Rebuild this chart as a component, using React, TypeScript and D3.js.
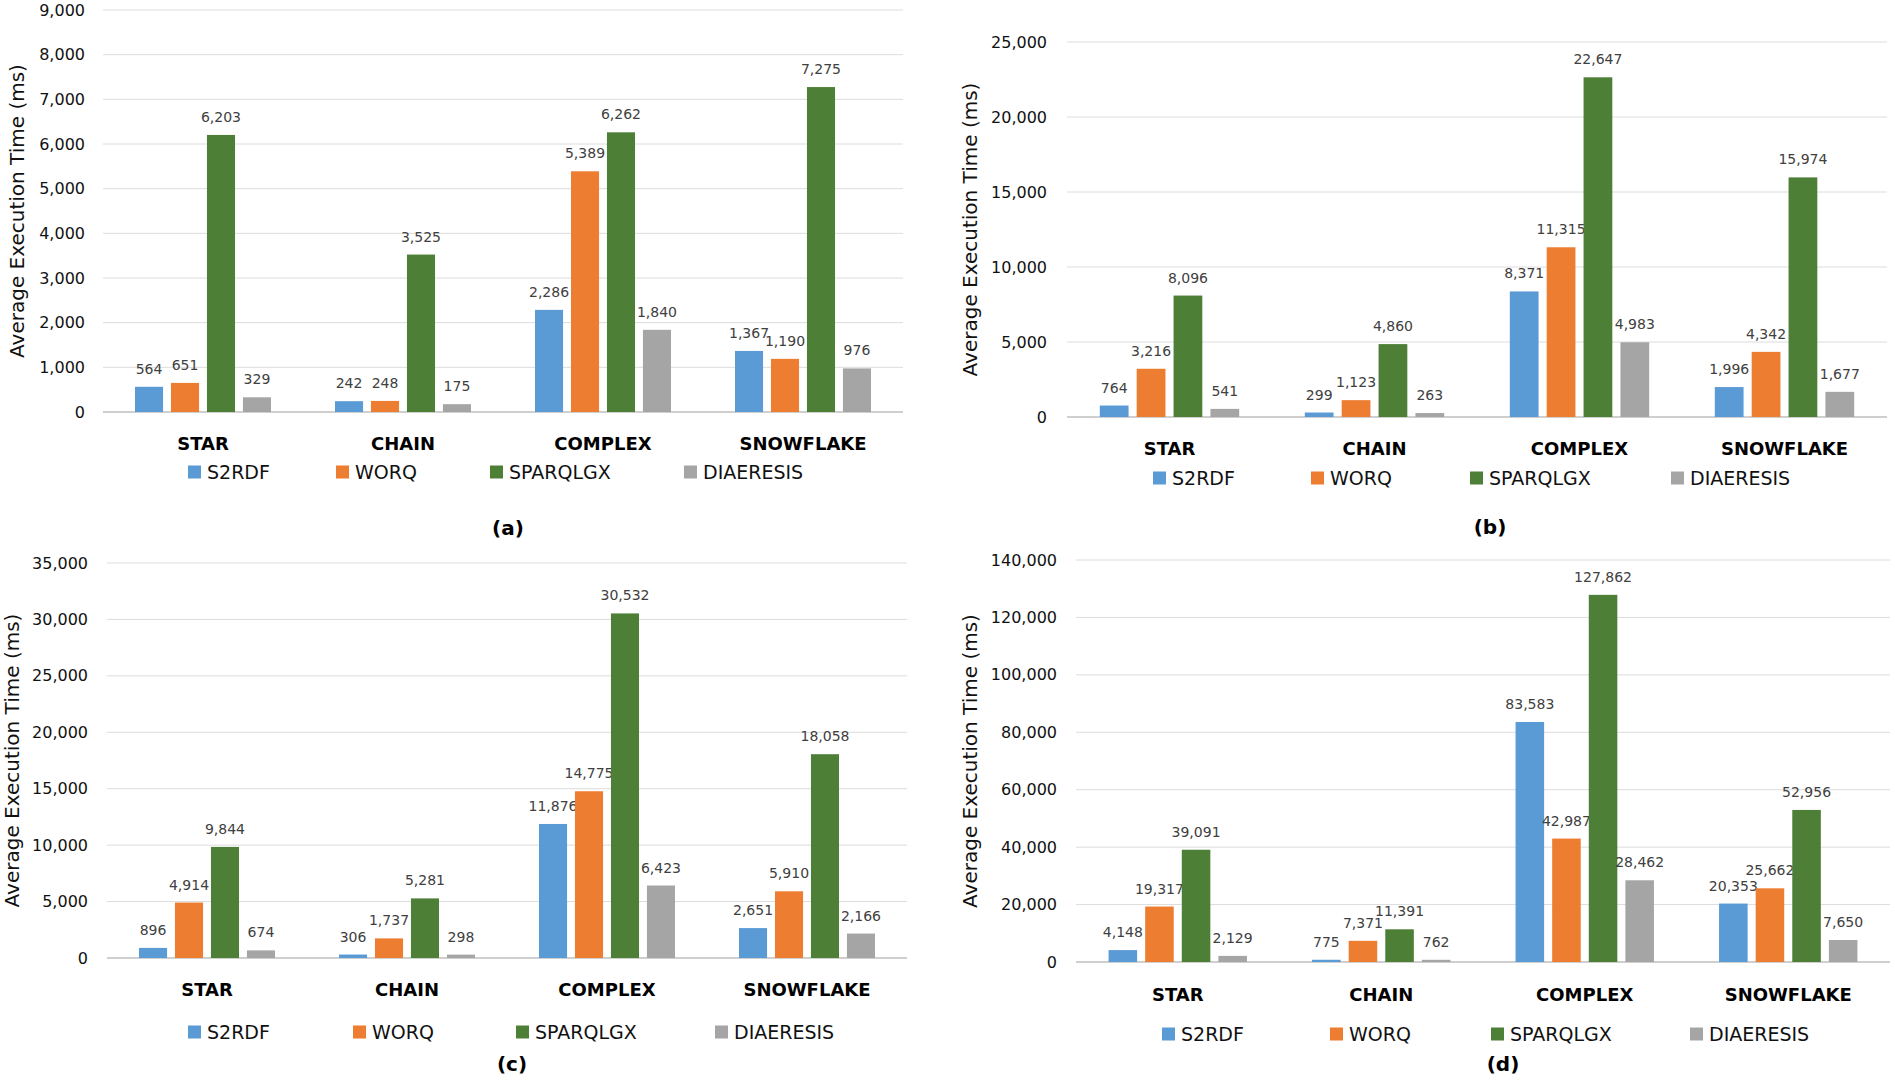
import React from "react";
import * as d3 from "d3";

const categories = ["STAR", "CHAIN", "COMPLEX", "SNOWFLAKE"];
const seriesNames = ["S2RDF", "WORQ", "SPARQLGX", "DIAERESIS"];
const seriesColors = ["#5B9BD5", "#ED7D31", "#4E7F37", "#A5A5A5"];

// Panel (a)
const aS2RDF = [564, 242, 2286, 1367];
const aWORQ = [651, 248, 5389, 1190];
const aSPARQLGX = [6203, 3525, 6262, 7275];
const aDIAERESIS = [329, 175, 1840, 976];
const aTicks = [0, 1000, 2000, 3000, 4000, 5000, 6000, 7000, 8000, 9000];

// Panel (b)
const bS2RDF = [764, 299, 8371, 1996];
const bWORQ = [3216, 1123, 11315, 4342];
const bSPARQLGX = [8096, 4860, 22647, 15974];
const bDIAERESIS = [541, 263, 4983, 1677];
const bTicks = [0, 5000, 10000, 15000, 20000, 25000];

// Panel (c)
const cS2RDF = [896, 306, 11876, 2651];
const cWORQ = [4914, 1737, 14775, 5910];
const cSPARQLGX = [9844, 5281, 30532, 18058];
const cDIAERESIS = [674, 298, 6423, 2166];
const cTicks = [0, 5000, 10000, 15000, 20000, 25000, 30000, 35000];

// Panel (d)
const dS2RDF = [4148, 775, 83583, 20353];
const dWORQ = [19317, 7371, 42987, 25662];
const dSPARQLGX = [39091, 11391, 127862, 52956];
const dDIAERESIS = [2129, 762, 28462, 7650];
const dTicks = [0, 20000, 40000, 60000, 80000, 100000, 120000, 140000];

const yTitle = "Average Execution Time (ms)";
const FONT = "'DejaVu Sans', Verdana, sans-serif";

type Layout = {
  caption: string;
  left: number; right: number; top: number; bottom: number;
  tickX: number; titleX: number; catY: number; legendY: number;
  legendX: number[]; captionX: number; captionY: number;
};

const panels: { series: number[][]; ticks: number[]; layout: Layout }[] = [
  {
    series: [aS2RDF, aWORQ, aSPARQLGX, aDIAERESIS], ticks: aTicks,
    layout: { caption: "(a)", left: 103, right: 903, top: 10, bottom: 412, tickX: 85, titleX: 17,
      catY: 443, legendY: 472, legendX: [188, 336, 490, 684], captionX: 508, captionY: 528 },
  },
  {
    series: [bS2RDF, bWORQ, bSPARQLGX, bDIAERESIS], ticks: bTicks,
    layout: { caption: "(b)", left: 1067, right: 1887, top: 42, bottom: 417, tickX: 1047, titleX: 970,
      catY: 448, legendY: 478, legendX: [1153, 1311, 1470, 1671], captionX: 1490, captionY: 527 },
  },
  {
    series: [cS2RDF, cWORQ, cSPARQLGX, cDIAERESIS], ticks: cTicks,
    layout: { caption: "(c)", left: 107, right: 907, top: 563, bottom: 958, tickX: 88, titleX: 12,
      catY: 989, legendY: 1032, legendX: [188, 353, 516, 715], captionX: 512, captionY: 1064 },
  },
  {
    series: [dS2RDF, dWORQ, dSPARQLGX, dDIAERESIS], ticks: dTicks,
    layout: { caption: "(d)", left: 1076, right: 1890, top: 560, bottom: 962, tickX: 1057, titleX: 970,
      catY: 994, legendY: 1034, legendX: [1162, 1330, 1491, 1690], captionX: 1503, captionY: 1064 },
  },
];

const fmt = d3.format(",");

function Panel({ series, ticks, layout }: { series: number[][]; ticks: number[]; layout: Layout }) {
  const L = layout;
  const y = d3.scaleLinear().domain([0, ticks[ticks.length - 1]]).range([L.bottom, L.top]);
  const x0 = d3.scaleBand<string>().domain(categories).range([L.left, L.right]).padding(0);
  const bw = x0.bandwidth();
  const groupW = bw * 0.68;
  const x1 = d3.scaleBand<string>().domain(seriesNames).range([-groupW / 2, groupW / 2]).paddingInner(0.22).paddingOuter(0);
  return (
    <g>
      {ticks.map((t) => (
        <g key={t}>
          <line x1={L.left} x2={L.right} y1={y(t)} y2={y(t)} stroke={t === 0 ? "#cfcfcf" : "#dcdcdc"} strokeWidth={t === 0 ? 2 : 1} />
          <text x={L.tickX} y={y(t)} textAnchor="end" dominantBaseline="central" fontSize={16} fill="#111" fontFamily={FONT}>
            {fmt(t)}
          </text>
        </g>
      ))}
      <text
        transform={`translate(${L.titleX},${(L.top + L.bottom) / 2}) rotate(-90)`}
        textAnchor="middle" dominantBaseline="central" fontSize={20} fill="#111" fontFamily={FONT}
      >
        {yTitle}
      </text>
      {categories.map((c, ci) => (
        <g key={c}>
          {seriesNames.map((s, si) => {
            const v = series[si][ci];
            const bx = (x0(c) as number) + bw / 2 + (x1(s) as number);
            return (
              <g key={s}>
                <rect x={bx} y={y(v)} width={x1.bandwidth()} height={L.bottom - y(v)} fill={seriesColors[si]} />
                <text x={bx + x1.bandwidth() / 2} y={y(v) - 13} textAnchor="middle" fontSize={14} fill="#404040" fontFamily={FONT}>
                  {fmt(v)}
                </text>
              </g>
            );
          })}
          <text x={(x0(c) as number) + bw / 2} y={L.catY} textAnchor="middle" dominantBaseline="central" fontSize={18} fontWeight="bold" fill="#000" fontFamily={FONT}>
            {c}
          </text>
        </g>
      ))}
      {seriesNames.map((s, si) => (
        <g key={s}>
          <rect x={L.legendX[si]} y={L.legendY - 6.5} width={13} height={13} fill={seriesColors[si]} />
          <text x={L.legendX[si] + 19} y={L.legendY} dominantBaseline="central" fontSize={19} fill="#111" fontFamily={FONT}>
            {s}
          </text>
        </g>
      ))}
      <text x={L.captionX} y={L.captionY} textAnchor="middle" dominantBaseline="central" fontSize={20} fontWeight="bold" fill="#000" fontFamily={FONT}>
        {L.caption}
      </text>
    </g>
  );
}

export default function App() {
  return (
    <svg
      width={1895}
      height={1080}
      style={{ position: "absolute", left: 0, top: 0, background: "#fff" }}
    >
      <rect x={0} y={0} width={1895} height={1080} fill="#fff" />
      {panels.map((p, i) => (
        <Panel key={i} series={p.series} ticks={p.ticks} layout={p.layout} />
      ))}
    </svg>
  );
}
